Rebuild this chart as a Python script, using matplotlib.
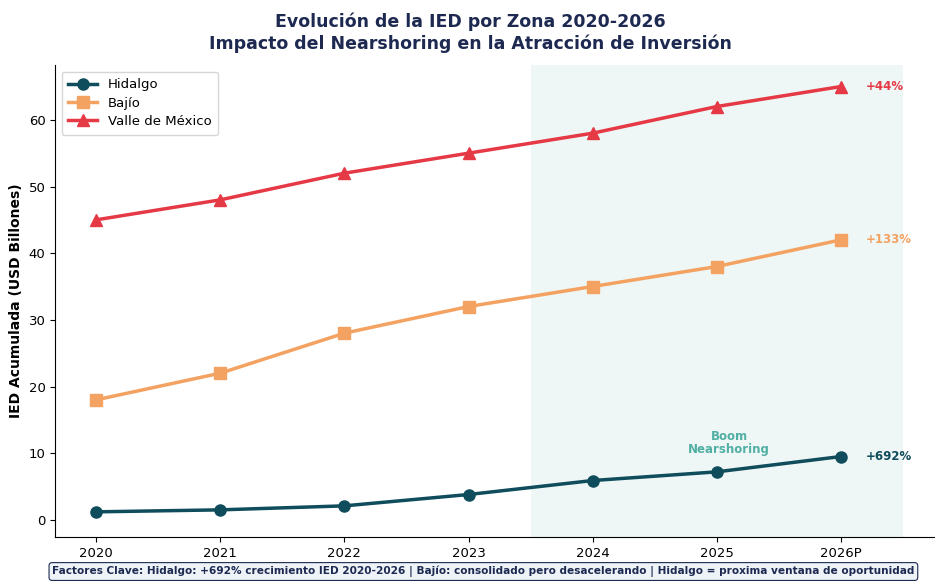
import numpy as np
import matplotlib.pyplot as plt

# datos de IED acumulada (USD billones)
years = ['2020', '2021', '2022', '2023', '2024', '2025', '2026P']
hidalgo = [1.2, 1.5, 2.1, 3.8, 5.9, 7.2, 9.5]
bajio = [18, 22, 28, 32, 35, 38, 42]
valle = [45, 48, 52, 55, 58, 62, 65]
growth_labels = ['+692%', '+133%', '+44%']

c_hid = '#0f4c5c'
c_baj = '#f4a261'
c_val = '#e63946'
c_teal = '#2a9d8f'
c_navy = '#1d2951'

x = np.arange(len(years))

fig = plt.figure(figsize=(9.35, 5.82), dpi=100)
ax = fig.add_axes([0.059, 0.077, 0.94, 0.811])

ax.axvspan(3.5, 6.5, color=c_teal, alpha=0.08, lw=0)

ax.plot(x, hidalgo, color=c_hid, marker='o', lw=2.5, ms=8, label='Hidalgo')
ax.plot(x, bajio, color=c_baj, marker='s', lw=2.5, ms=8, label='Bajío')
ax.plot(x, valle, color=c_val, marker='^', lw=2.5, ms=8, label='Valle de México')

# etiquetas de crecimiento
for serie, lab, col in zip([hidalgo, bajio, valle], growth_labels, [c_hid, c_baj, c_val]):
    ax.text(x[-1] + 0.2, serie[-1], lab, color=col, fontsize=8.5,
            fontweight='bold', va='center', ha='left')

ax.text(5.1, 11.5, 'Boom\nNearshoring', color=c_teal, alpha=0.8, fontsize=8.5,
        fontweight='bold', ha='center', va='center', linespacing=1.0)

ax.set_xticks(x)
ax.set_xticklabels(years, fontsize=9.5)
ax.tick_params(axis='y', labelsize=9.5)
ax.set_xlim(-0.33, 6.75)
ax.set_ylim(-2.6, 68.2)
ax.set_ylabel('IED Acumulada (USD Billones)', fontsize=10, fontweight='bold')
ax.spines['top'].set_visible(False)
ax.spines['right'].set_visible(False)

ax.legend(loc='upper left', fontsize=9.5, frameon=True, borderpad=0.5,
          handlelength=2.2, labelspacing=0.4)

fig.text(0.503, 0.978, 'Evolución de la IED por Zona 2020-2026\n'
         'Impacto del Nearshoring en la Atracción de Inversión',
         ha='center', va='top', fontsize=12.5, fontweight='bold', color=c_navy,
         linespacing=1.25)

fig.text(0.517, 0.018, 'Factores Clave: Hidalgo: +692% crecimiento IED 2020-2026 | '
         'Bajío: consolidado pero desacelerando | Hidalgo = proxima ventana de oportunidad',
         ha='center', va='center', fontsize=7.6, fontweight='bold', color=c_navy,
         bbox=dict(boxstyle='round,pad=0.3', fc='#eef3f7', ec=c_navy, lw=0.8))

fig.savefig('out.png', dpi=100)
